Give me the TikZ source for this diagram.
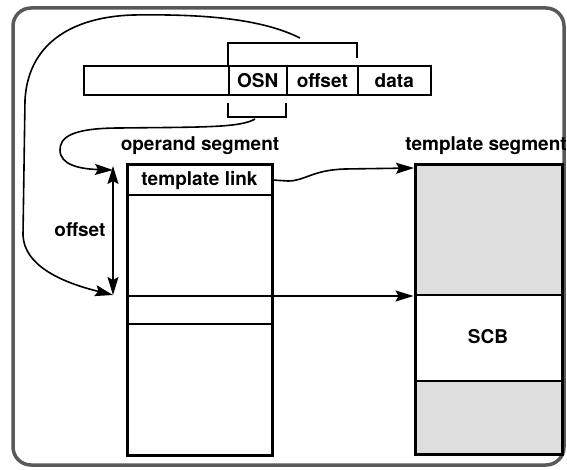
\documentclass[tikz,border=0pt]{standalone}
\usepackage{fontspec}
\setmainfont{TeX Gyre Heros}
\usetikzlibrary{arrows.meta}
\begin{document}
\begin{tikzpicture}[x=1pt,y=-1pt,
  lbl/.style={font=\bfseries\fontsize{19}{22}\selectfont, inner sep=0pt},
  field/.style={draw, line width=1.6pt, minimum height=29pt, inner sep=0pt, anchor=west, font=\bfseries\fontsize{19}{22}\selectfont},
  seg/.style={draw, line width=3pt, inner sep=0pt},
  thin/.style={line width=1.6pt},
  arr/.style={-{Stealth[length=18pt,width=11pt,inset=3pt]}, line width=1.6pt},
  darr/.style={{Stealth[length=18pt,width=11pt,inset=3pt]}-{Stealth[length=18pt,width=11pt,inset=3pt]}, line width=1.6pt},
  shade/.style={fill=black!13}]
\useasboundingbox (0,0) rectangle (567,470);
% frame
\draw[black!65, line width=3.5pt, rounded corners=18pt] (13,8) rectangle (564,465);
% instruction
\node[field, minimum width=145pt] (blank) at (83,80.5) {};
\node[field, minimum width=58pt] (osn) at (228,80.5) {OSN};
\node[field, minimum width=71pt] (off) at (286,80.5) {offset};
\node[field, minimum width=73pt] (data) at (357,80.5) {data};
\coordinate (brTR) at (357,58);
\coordinate (brBR) at (286,103);
\coordinate (brBL) at (228,103);
\draw[thin] (osn.north west) |- (357,43) -- (brTR);
\draw[thin] (brBL) |- (286,117) -- (brBR);
% titles
\node[lbl] (opT) at (200,146) {operand segment};
\node[lbl] (tsT) at (486,146) {template segment};
% operand segment
\node[seg, minimum width=145pt, minimum height=290pt] (op) at (199.5,310) {};
\node[lbl, minimum width=145pt, minimum height=30pt] (tl) at (199.5,180) {template link};
\draw[thin] (127,195) -- (272,195);
\draw[thin] (127,296) -- (272,296);
\draw[thin] (127,324) -- (272,324);
% template segment
\fill[shade] (415,165) rectangle (562,295);
\fill[shade] (415,381) rectangle (562,454);
\node[seg, minimum width=147pt, minimum height=289pt] (ts) at (488.5,309.5) {};
\draw[thin] (415,295) -- (562,295);
\draw[thin] (415,381) -- (562,381);
\node[lbl] (scb) at (488,337) {SCB};
% offset arrow
\coordinate (offTop) at (113,166);
\coordinate (offBot) at (113,295);
\draw[darr] (offTop) -- (offBot);
\node[lbl] (offL) at (80,230) {offset};
% curve from top bracket
\coordinate (c1) at (300,38);
\draw[arr] (c1) .. controls (260,18) and (200,14) .. (133,15)
  .. controls (70,17) and (28,45) .. (25,100) -- (23,235)
  .. controls (24,265) and (60,282) .. (offBot);
% curve from bottom bracket
\coordinate (c2) at (255,119);
\coordinate (c2end) at (113,170);
\draw[arr] (c2) .. controls (240,128) and (200,127) .. (120,128)
  .. controls (70,128) and (60,138) .. (60,150)
  .. controls (60,165) and (80,169) .. (c2end);
% template link arrow
\coordinate (tsIn) at (414,168);
\draw[arr] (tl.east) -- (288,181) .. controls (305,181) and (312,170) .. (345,169) -- (tsIn);
% SCB arrow
\draw[arr] (op.east |- 0,296) -- (ts.west |- 0,296);
\end{tikzpicture}
\end{document}
